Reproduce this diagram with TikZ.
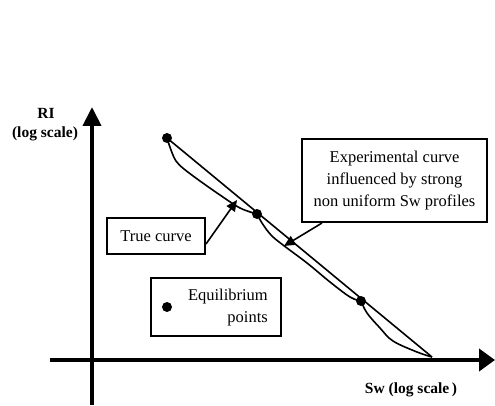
\documentclass[tikz,border=0pt]{standalone}
\usepackage{fontspec}
\setmainfont{Liberation Serif}
\usetikzlibrary{arrows.meta}
\begin{document}
\begin{tikzpicture}[x=1pt,y=-1pt,
  lbl/.style={font=\fontsize{16.5}{22}\selectfont},
  axlbl/.style={font=\bfseries\fontsize{15.5}{20}\selectfont},
  box/.style={draw,line width=2pt,inner sep=0pt,lbl},
  thin/.style={line width=1.6pt},
  axis/.style={line width=4pt},
  callout/.style={line width=1.6pt,-{Triangle[length=11pt,width=10pt]}},
  eqpt/.style={circle,fill=black,inner sep=0pt,minimum size=10pt}
]
\useasboundingbox (0,0) rectangle (495,406);
% axes
\coordinate (yb) at (92,405);
\coordinate (yt) at (92,107);
\coordinate (xl) at (50,360);
\coordinate (xr) at (495,360);
\draw[axis,-{Triangle[length=19pt,width=18pt]}] (yb) -- (yt);
\draw[axis,-{Triangle[length=16pt,width=22pt]}] (xl) -- (xr);
\node[axlbl] (ri) at (46,113) {RI};
\node[axlbl] (ril) at (45,134) {(log scale)};
\node[axlbl] (swl) at (411,390) {Sw (log scale\,)};
% equilibrium points
\node[eqpt] (p1) at (167,138) {};
\node[eqpt] (p2) at (257,214) {};
\node[eqpt] (p3) at (361,301) {};
\coordinate (pe) at (432,357);
% true curve (straight)
\draw[thin] (p1.center) -- (pe);
% experimental curve
\draw[thin] plot[smooth,tension=0.6] coordinates {(167,138) (171,150) (176,161) (184,169) (200,181) (220,195) (240,208) (257,214)};
\draw[thin] plot[smooth,tension=0.6] coordinates {(257,214) (262,223) (271,235) (283,245) (307,263) (330,282) (350,297) (361,301)};
\draw[thin] plot[smooth,tension=0.6] coordinates {(361,301) (367,313) (380,328) (393,341) (417,352) (432,357)};
% boxes
\node[box,minimum width=98pt,minimum height=36pt] (tc) at (156,236) {True curve};
\node[box,minimum width=130pt,minimum height=58pt] (eq) at (216,307) {};
\node[eqpt] (eqd) at (167,307) {};
\node[lbl,align=right,anchor=east,inner sep=0pt] (eqt) at (268,307.5) {Equilibrium\\points};
\node[box,minimum width=185pt,minimum height=83pt,align=center] (ex) at (394.5,180.5) {Experimental curve\\influenced by strong\\non uniform Sw profiles};
% callouts
\coordinate (tctip) at (237,200);
\coordinate (extip) at (284,246);
\draw[callout] ([yshift=-8pt]tc.east) -- (tctip);
\draw[callout] ([xshift=21pt]ex.south west) -- (extip);
\end{tikzpicture}
\end{document}
